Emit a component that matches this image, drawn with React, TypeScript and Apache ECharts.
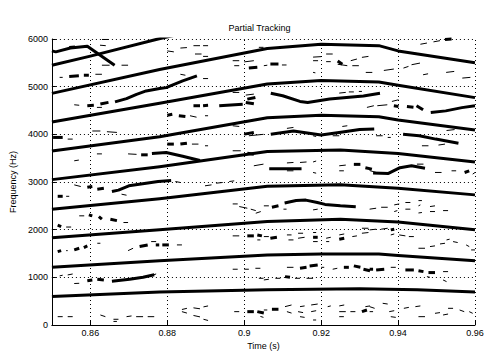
import React, { useEffect, useRef } from "react";
import * as echarts from "echarts";

const TITLE = "Partial Tracking";
const X_NAME = "Time (s)";
const Y_NAME = "Frequency (Hz)";
const TIME_TICKS = [0.86, 0.88, 0.9, 0.92, 0.94, 0.96];
const FREQ_MIN = 0;
const FREQ_MAX = 6000;
const FREQ_STEP = 1000;
const TIME_MIN = 0.85;
const TIME_MAX = 0.96;

// Continuous partial tracks [time, freq]
const TRACK_1 = [[0.85, 600], [0.878, 690], [0.906, 740], [0.93, 760], [0.945, 740], [0.96, 690]];
const TRACK_2 = [[0.85, 1210], [0.878, 1350], [0.906, 1470], [0.92, 1490], [0.935, 1490], [0.94, 1460], [0.96, 1350]];
const TRACK_3 = [[0.85, 1830], [0.878, 2000], [0.906, 2170], [0.925, 2220], [0.94, 2160], [0.96, 2000]];
const TRACK_4 = [[0.85, 2430], [0.878, 2650], [0.906, 2910], [0.925, 2940], [0.94, 2870], [0.96, 2730]];
const TRACK_5 = [[0.85, 3050], [0.878, 3320], [0.906, 3640], [0.925, 3670], [0.94, 3600], [0.96, 3420]];
const TRACK_6 = [[0.85, 3650], [0.878, 3950], [0.906, 4350], [0.92, 4400], [0.935, 4370], [0.94, 4300], [0.96, 4090]];
const TRACK_7 = [[0.85, 4260], [0.878, 4650], [0.906, 5055], [0.92, 5130], [0.935, 5100], [0.94, 5030], [0.96, 4770]];
const TRACK_8 = [[0.85, 4860], [0.878, 5360], [0.906, 5800], [0.92, 5890], [0.935, 5860], [0.94, 5750], [0.96, 5500]];
const TRACK_9 = [[0.85, 5450], [0.86, 5640], [0.8776, 6000], [0.882, 6080]];
const TRACK_10 = [[0.85, 5750], [0.851, 5730], [0.8548, 5810], [0.8592, 5850], [0.8663, 5450]];
const TRACK_11 = [[0.8664, 4680], [0.8694, 4750], [0.872, 4840], [0.8745, 4910], [0.878, 4960], [0.8797, 4980], [0.884, 5120], [0.8877, 5225]];
const TRACK_12 = [[0.876, 3600], [0.8797, 3620], [0.884, 3540], [0.8885, 3450]];
const TRACK_13 = [[0.8656, 2800], [0.8673, 2830], [0.87, 2920], [0.8745, 2975], [0.8776, 3010], [0.881, 3030]];
const TRACK_14 = [[0.8656, 920], [0.8702, 960], [0.8737, 1000], [0.8766, 1055]];
const TRACK_15 = [[0.9069, 4860], [0.91, 4810], [0.9145, 4690], [0.9165, 4670], [0.9222, 4740], [0.931, 4805], [0.9353, 4860]];
const TRACK_16 = [[0.9485, 4456], [0.9524, 4492], [0.9566, 4560], [0.96, 4600]];
const TRACK_17 = [[0.9069, 4000], [0.9128, 4070], [0.92, 3985], [0.9256, 4050], [0.93, 4100], [0.9338, 4110]];
const TRACK_18 = [[0.9413, 4000], [0.9455, 3970], [0.9498, 3900], [0.9557, 3815]];
const TRACK_19 = [[0.9065, 3280], [0.9149, 3280]];
const TRACK_20 = [[0.9335, 3190], [0.9375, 3180], [0.9405, 3300], [0.9435, 3340], [0.947, 3290]];
const TRACK_21 = [[0.9105, 2560], [0.9135, 2610], [0.916, 2620], [0.919, 2570], [0.921, 2530], [0.925, 2500], [0.929, 2480]];
const TRACK_22 = [[0.8935, 4600], [0.8996, 4630]];

const TRACKS = [
  TRACK_1, TRACK_2, TRACK_3, TRACK_4, TRACK_5, TRACK_6, TRACK_7, TRACK_8, TRACK_9, TRACK_10, TRACK_11,
  TRACK_12, TRACK_13, TRACK_14, TRACK_15, TRACK_16, TRACK_17, TRACK_18, TRACK_19, TRACK_20, TRACK_21, TRACK_22,
];

// Short unmatched peak links [t1, f1, t2, f2]
const THIN_LINKS = [
  [0.863, 5990, 0.8647, 5990], [0.8625, 5870, 0.864, 5860], [0.863, 5450, 0.865, 5450], [0.8681, 5450, 0.8698, 5450],
  [0.852, 5195, 0.8528, 5195], [0.8613, 5260, 0.863, 5260], [0.8558, 4620, 0.8571, 4610], [0.8617, 4565, 0.863, 4565],
  [0.8605, 4070, 0.8626, 4070], [0.8643, 4055, 0.8669, 4040], [0.8541, 3900, 0.8554, 3900], [0.8617, 3590, 0.863, 3590],
  [0.8698, 3590, 0.872, 3580], [0.8558, 3445, 0.857, 3460],
  [0.88, 5750, 0.8817, 5730], [0.8834, 5810, 0.8851, 5820], [0.8868, 5860, 0.8885, 5860], [0.8893, 5860, 0.8906, 5860],
  [0.8872, 5685, 0.8889, 5685], [0.8893, 5635, 0.8906, 5635], [0.8834, 5260, 0.8847, 5240], [0.8893, 5170, 0.8906, 5170],
  [0.8859, 4390, 0.8876, 4360], [0.8898, 4390, 0.8906, 4390], [0.8864, 3795, 0.8881, 3795], [0.8898, 3760, 0.8906, 3760],
  [0.897, 5545, 0.8987, 5545], [0.8974, 5440, 0.8987, 5440], [0.9, 5520, 0.9025, 5545], [0.9038, 5825, 0.905, 5825],
  [0.897, 4879, 0.8987, 4879], [0.9004, 4823, 0.9025, 4844], [0.897, 4180, 0.8987, 4165], [0.9012, 3970, 0.905, 4000],
  [0.897, 3655, 0.8991, 3655], [0.9025, 3340, 0.905, 3375],
  [0.9179, 5620, 0.92, 5630], [0.9179, 5545, 0.9192, 5545], [0.9213, 5685, 0.923, 5685], [0.9213, 5525, 0.9225, 5525],
  [0.9243, 5470, 0.9268, 5440], [0.9277, 5545, 0.9293, 5580], [0.9281, 5440, 0.9298, 5440], [0.9306, 5615, 0.9323, 5635],
  [0.9179, 5300, 0.9185, 5290], [0.9051, 5440, 0.906, 5450], [0.9098, 5455, 0.911, 5455], [0.9247, 4865, 0.9264, 4880],
  [0.9272, 4890, 0.9285, 4890], [0.9298, 4900, 0.9306, 4900], [0.9319, 4565, 0.9337, 4600], [0.9111, 4125, 0.9128, 4145],
  [0.9255, 4165, 0.9268, 4180], [0.9179, 3970, 0.9187, 3955], [0.923, 3970, 0.9247, 3970], [0.9111, 3400, 0.9128, 3410],
  [0.9145, 3410, 0.9162, 3420], [0.9179, 3420, 0.9187, 3440], [0.9111, 3235, 0.9128, 3235], [0.9179, 3200, 0.9187, 3185],
  [0.9247, 3340, 0.9264, 3355], [0.9247, 3235, 0.9259, 3235],
  [0.9458, 5890, 0.9475, 5915], [0.9492, 5940, 0.9509, 5965], [0.9316, 5299, 0.9333, 5299], [0.9363, 5340, 0.9389, 5370],
  [0.9414, 5390, 0.9427, 5425], [0.9435, 5460, 0.9457, 5495], [0.9465, 5250, 0.9478, 5270], [0.9525, 5299, 0.9546, 5320],
  [0.9567, 5180, 0.9588, 5195], [0.9346, 4600, 0.9372, 4620], [0.9384, 4690, 0.9401, 4725], [0.9526, 4080, 0.9547, 4100],
  [0.9343, 3970, 0.936, 3970], [0.9373, 3935, 0.9381, 3935], [0.9462, 3760, 0.9479, 3760], [0.9505, 3775, 0.9522, 3795],
  [0.9326, 3240, 0.9343, 3200], [0.9449, 3375, 0.9466, 3375], [0.9496, 3200, 0.9513, 3200], [0.9539, 3235, 0.9551, 3235],
  [0.9594, 3165, 0.96, 3200],
  [0.8558, 2940, 0.8575, 2905], [0.8681, 2744, 0.8694, 2723], [0.8537, 2700, 0.8545, 2700], [0.8571, 2290, 0.8584, 2290],
  [0.8686, 2150, 0.8698, 2150], [0.8537, 2055, 0.855, 2055], [0.8537, 1560, 0.8541, 1560], [0.8618, 1715, 0.8626, 1715],
  [0.8698, 1560, 0.8711, 1610], [0.8758, 1750, 0.8771, 1750], [0.8825, 1680, 0.8838, 1680], [0.852, 1030, 0.8528, 1045],
  [0.8541, 1050, 0.8554, 1070], [0.8558, 870, 0.8571, 875], [0.8762, 1050, 0.8771, 1070], [0.8515, 175, 0.8528, 175],
  [0.8541, 175, 0.8554, 175], [0.8626, 210, 0.8639, 175], [0.866, 120, 0.8673, 120], [0.866, 75, 0.8669, 75],
  [0.8694, 175, 0.8707, 190], [0.8719, 175, 0.8737, 175], [0.8749, 175, 0.8766, 175],
  [0.8821, 3010, 0.8834, 2990], [0.8898, 2920, 0.8915, 2940], [0.8927, 2975, 0.8944, 2990], [0.8961, 3010, 0.8974, 3024],
  [0.897, 2540, 0.8983, 2540], [0.8987, 2485, 0.9008, 2450], [0.9017, 2430, 0.903, 2400], [0.903, 2345, 0.9043, 2380],
  [0.897, 1870, 0.8987, 1870], [0.9034, 1785, 0.9042, 1785], [0.897, 1170, 0.8983, 1170], [0.9, 1170, 0.9012, 1170],
  [0.9029, 1190, 0.9042, 1190], [0.9038, 980, 0.905, 980], [0.8838, 325, 0.8851, 350], [0.8838, 280, 0.8851, 250],
  [0.8868, 360, 0.8885, 340], [0.8868, 200, 0.8885, 170], [0.8894, 380, 0.8906, 400], [0.8894, 120, 0.8906, 95],
  [0.8974, 280, 0.8987, 280], [0.9042, 180, 0.905, 160],
  [0.9051, 2500, 0.9064, 2500], [0.9102, 2430, 0.911, 2430], [0.9179, 2415, 0.9191, 2430], [0.9051, 1855, 0.9064, 1855],
  [0.9111, 1890, 0.9123, 1890], [0.9115, 1785, 0.9128, 1785], [0.914, 1820, 0.9157, 1840], [0.914, 1925, 0.9153, 1925],
  [0.9179, 1940, 0.9187, 1940], [0.9179, 1750, 0.9191, 1750], [0.9213, 1820, 0.9225, 1840], [0.9213, 1750, 0.9221, 1750],
  [0.9247, 1890, 0.926, 1910], [0.9281, 1855, 0.9293, 1870], [0.9306, 1925, 0.9323, 1940], [0.9306, 2030, 0.9323, 2030],
  [0.9111, 1210, 0.9128, 1210], [0.92, 1210, 0.9208, 1210], [0.923, 1170, 0.9242, 1190], [0.9051, 945, 0.9064, 960],
  [0.9081, 980, 0.9094, 980], [0.9132, 980, 0.9145, 980], [0.9162, 980, 0.9179, 980], [0.9051, 315, 0.906, 315],
  [0.9106, 385, 0.9123, 420], [0.9111, 280, 0.9123, 250], [0.9145, 385, 0.9157, 400], [0.914, 280, 0.9153, 260],
  [0.9145, 175, 0.9157, 160], [0.9174, 420, 0.9191, 440], [0.9174, 280, 0.9187, 300], [0.9179, 105, 0.9187, 105],
  [0.9217, 385, 0.9225, 400], [0.9247, 400, 0.926, 420], [0.9247, 280, 0.9264, 280], [0.9247, 175, 0.9259, 175],
  [0.9276, 280, 0.9289, 280], [0.9315, 385, 0.9327, 400],
  [0.9326, 2430, 0.9343, 2450], [0.9356, 2470, 0.9373, 2470], [0.939, 2520, 0.9403, 2540], [0.939, 2380, 0.9398, 2400],
  [0.9419, 2570, 0.9432, 2570], [0.9419, 2430, 0.9432, 2430], [0.9453, 2610, 0.9462, 2610], [0.9453, 2500, 0.9458, 2520],
  [0.9453, 2350, 0.9462, 2360], [0.9483, 2485, 0.9496, 2500], [0.9483, 2380, 0.9496, 2380], [0.9517, 2400, 0.953, 2400],
  [0.9326, 1995, 0.9343, 2010], [0.9356, 2010, 0.9373, 2030], [0.9381, 1890, 0.939, 1910], [0.9403, 1890, 0.9419, 1870],
  [0.9428, 1855, 0.9441, 1855], [0.9453, 1610, 0.947, 1610], [0.9483, 1645, 0.9496, 1660], [0.9509, 1700, 0.9522, 1715],
  [0.9526, 1785, 0.9534, 1800], [0.9543, 1750, 0.9555, 1730], [0.9577, 1680, 0.9585, 1645], [0.959, 1575, 0.96, 1575],
  [0.9381, 1210, 0.9394, 1210], [0.9475, 1015, 0.9483, 1000], [0.9517, 1120, 0.953, 1120], [0.9517, 945, 0.9526, 910],
  [0.9326, 385, 0.9339, 350], [0.9326, 280, 0.9335, 280], [0.936, 455, 0.9373, 440], [0.9377, 280, 0.939, 300],
  [0.9381, 175, 0.9394, 160], [0.9415, 350, 0.9428, 370], [0.9445, 385, 0.9458, 400], [0.9453, 175, 0.947, 175],
  [0.9496, 245, 0.9509, 260], [0.9517, 210, 0.953, 230], [0.953, 350, 0.9543, 350], [0.956, 315, 0.9572, 280],
  [0.9585, 280, 0.9594, 245],
];

// Short two-frame tracks drawn heavier [t1, f1, t2, f2]
const HEAVY_LINKS = [
  [0.8545, 5215, 0.857, 5230], [0.8583, 5240, 0.8596, 5240], [0.8592, 4600, 0.8609, 4610], [0.8626, 4635, 0.8647, 4670],
  [0.8503, 3935, 0.8528, 3935], [0.8732, 3570, 0.8749, 3570], [0.8545, 5820, 0.856, 5830],
  [0.8868, 4600, 0.8885, 4600], [0.8893, 4600, 0.8906, 4610], [0.88, 4400, 0.8813, 4420], [0.883, 4390, 0.8847, 4375],
  [0.88, 3795, 0.8817, 3795], [0.8834, 3795, 0.8851, 3815], [0.9012, 5390, 0.9034, 5405], [0.9008, 4739, 0.9029, 4774],
  [0.9004, 4669, 0.9025, 4640], [0.9, 4004, 0.9025, 4039], [0.9008, 3605, 0.9025, 3584],
  [0.9243, 5540, 0.9255, 5470], [0.9068, 5475, 0.9089, 5475], [0.9285, 3370, 0.9302, 3370], [0.9315, 3300, 0.9332, 3270],
  [0.9522, 5990, 0.9539, 6000], [0.9389, 4600, 0.9401, 4585], [0.9423, 4585, 0.944, 4570], [0.9448, 4600, 0.9465, 4515],
  [0.9573, 3200, 0.9585, 3235],
  [0.8592, 2890, 0.8605, 2905], [0.8618, 2850, 0.8635, 2870], [0.8515, 2700, 0.8528, 2700], [0.8596, 2310, 0.8605, 2290],
  [0.8622, 2275, 0.863, 2220], [0.8652, 2220, 0.8669, 2190], [0.8515, 2095, 0.8524, 2065], [0.8515, 1540, 0.8524, 1560],
  [0.8558, 1575, 0.8571, 1610], [0.8583, 1625, 0.8592, 1660], [0.8728, 1645, 0.8749, 1680], [0.877, 1680, 0.8779, 1680],
  [0.8787, 1680, 0.8804, 1680], [0.8592, 930, 0.8605, 945], [0.8618, 960, 0.8635, 945],
  [0.9008, 1870, 0.9025, 1870], [0.9034, 1890, 0.9046, 1870], [0.9008, 280, 0.9025, 280], [0.9034, 280, 0.9051, 250],
  [0.9072, 2470, 0.9089, 2500], [0.9068, 1820, 0.9085, 1840], [0.9179, 1840, 0.9191, 1840], [0.9247, 1800, 0.926, 1820],
  [0.9145, 1190, 0.9162, 1210], [0.917, 1240, 0.9191, 1260], [0.9259, 1210, 0.9272, 1210], [0.9285, 1240, 0.9302, 1210],
  [0.931, 1170, 0.9327, 1140], [0.9106, 1015, 0.9119, 1000], [0.9072, 330, 0.9089, 330], [0.9306, 280, 0.9319, 315],
  [0.9381, 1995, 0.939, 2010], [0.9326, 1170, 0.9335, 1170], [0.9343, 1155, 0.9364, 1170], [0.9419, 1155, 0.9441, 1155],
  [0.9453, 1140, 0.9466, 1120], [0.9479, 1100, 0.9496, 1100],
];

const FONT = "'Liberation Sans', Arial, Helvetica, sans-serif";

function segmentSeries(data: number[][], width: number) {
  return {
    type: "custom",
    silent: true,
    data,
    encode: { x: [0, 2], y: [1, 3] },
    renderItem: (_params: any, api: any) => {
      const p1 = api.coord([api.value(0), api.value(1)]);
      const p2 = api.coord([api.value(2), api.value(3)]);
      return {
        type: "line",
        shape: { x1: p1[0], y1: p1[1], x2: p2[0], y2: p2[1] },
        style: { stroke: "#000", lineWidth: width, lineCap: "butt" },
      };
    },
  };
}

export default function App() {
  const ref = useRef<HTMLDivElement>(null);
  useEffect(() => {
    if (!ref.current) return;
    const chart = echarts.init(ref.current, null, { renderer: "svg" });
    const gridLine = { type: [1, 3], color: "#000", width: 1 };
    const trackSeries = TRACKS.map((tr, i) => ({
      type: "line",
      data: tr,
      showSymbol: false,
      symbol: "none",
      silent: true,
      clip: true,
      lineStyle: { color: "#000", width: 3, cap: "butt", join: "round" },
      ...(i === 0
        ? {
            markLine: {
              silent: true,
              symbol: ["none", "none"],
              label: { show: false },
              lineStyle: gridLine,
              data: TIME_TICKS.map((v) => ({ xAxis: v })),
            },
          }
        : {}),
    }));
    chart.setOption({
      animation: false,
      backgroundColor: "#fff",
      grid: { left: 44, right: 23, top: 39, bottom: 31, containLabel: false },
      graphic: [
        {
          type: "text",
          x: 259.5,
          y: 28,
          style: { text: TITLE, font: `9px ${FONT}`, fill: "#000", textAlign: "center", textVerticalAlign: "middle" },
        },
      ],
      xAxis: {
        type: "value",
        min: TIME_MIN,
        max: TIME_MAX,
        name: X_NAME,
        nameLocation: "middle",
        nameGap: 14,
        nameTextStyle: { fontFamily: FONT, fontSize: 9, color: "#000" },
        axisLine: { show: true, lineStyle: { color: "#000", width: 1 } },
        axisTick: { show: true, inside: true, length: 4, customValues: TIME_TICKS, lineStyle: { color: "#000" } },
        axisLabel: {
          customValues: TIME_TICKS,
          fontFamily: FONT,
          fontSize: 9,
          color: "#000",
          margin: 3,
          formatter: (v: number) => String(Math.round(v * 100) / 100),
        },
        splitLine: { show: false },
      },
      yAxis: {
        type: "value",
        min: FREQ_MIN,
        max: FREQ_MAX,
        interval: FREQ_STEP,
        name: Y_NAME,
        nameLocation: "middle",
        nameGap: 30,
        nameRotate: 90,
        nameTextStyle: { fontFamily: FONT, fontSize: 9, color: "#000" },
        axisLine: { show: true, lineStyle: { color: "#000", width: 1 } },
        axisTick: { show: true, inside: true, length: 4, lineStyle: { color: "#000" } },
        axisLabel: { fontFamily: FONT, fontSize: 9, color: "#000", margin: 4, formatter: (v: number) => String(v) },
        splitLine: { show: true, lineStyle: gridLine },
      },
      series: [...trackSeries, segmentSeries(THIN_LINKS, 1), segmentSeries(HEAVY_LINKS, 3)],
    });
    return () => chart.dispose();
  }, []);
  return <div ref={ref} style={{ position: "absolute", left: 0, top: 0, width: 498, height: 356 }} />;
}
